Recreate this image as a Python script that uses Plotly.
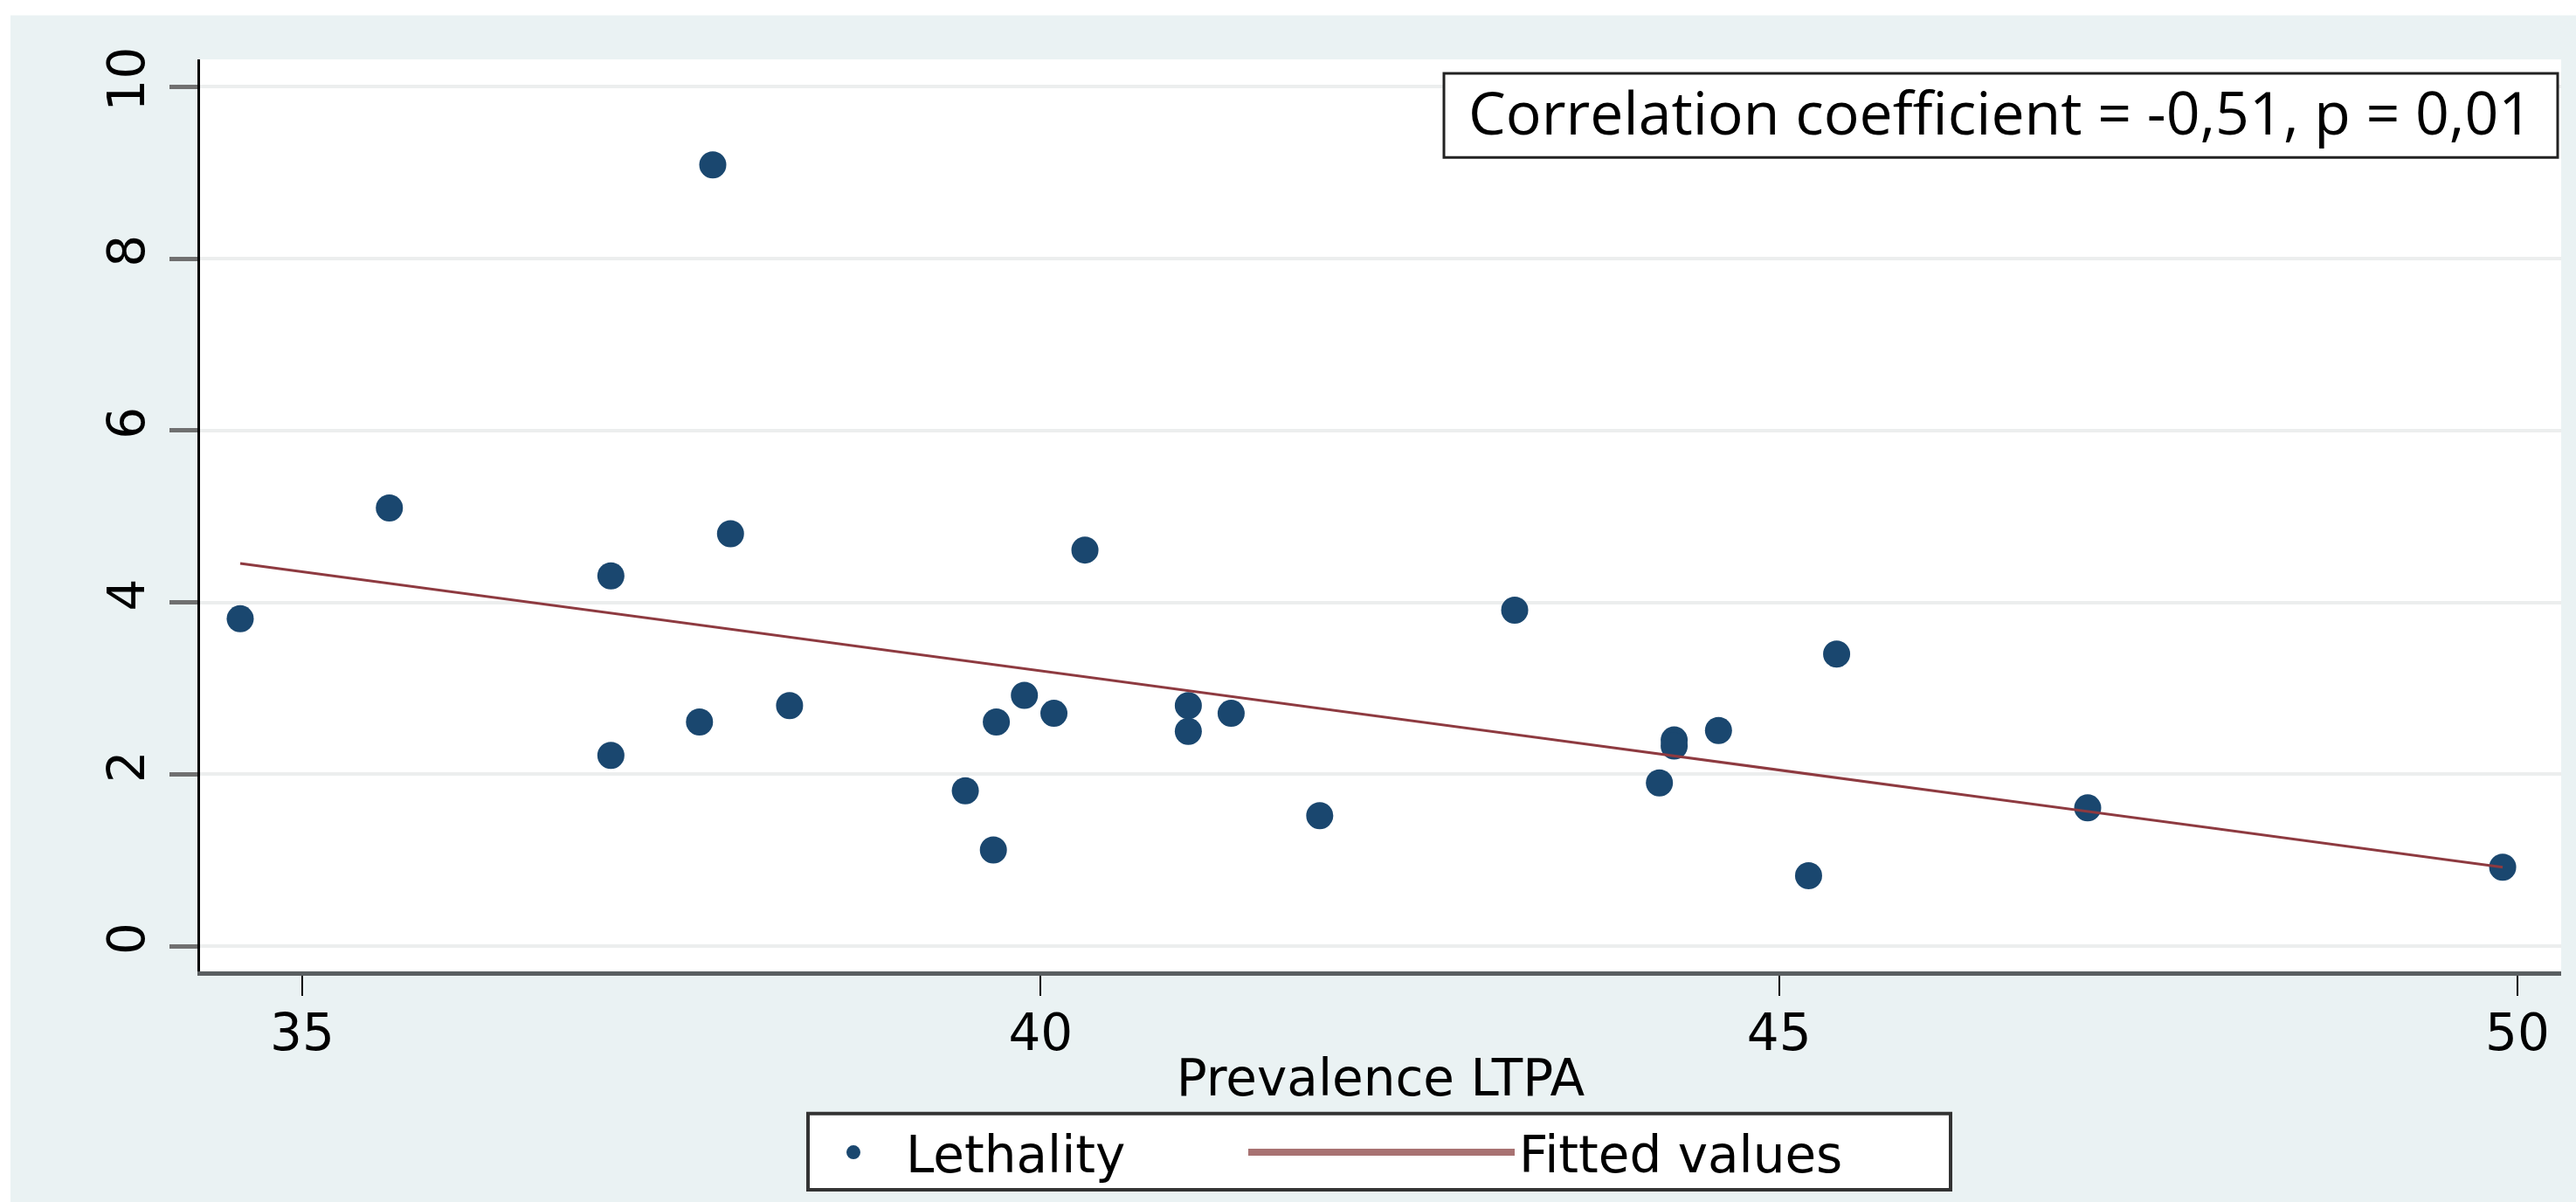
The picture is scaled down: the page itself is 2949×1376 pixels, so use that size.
import plotly.graph_objects as go

# ---------------- data ----------------
ltpa = [34.58, 35.59, 37.09, 37.09, 37.78, 37.69, 37.90, 38.30, 39.49, 39.70,
        39.68, 39.89, 40.09, 40.30, 41.00, 41.00, 41.29, 41.89, 43.21, 44.19,
        44.29, 44.29, 44.59, 45.20, 45.39, 47.09, 49.90]
lethality = [3.81, 5.10, 4.31, 2.22, 9.09, 2.61, 4.80, 2.80, 1.81, 2.61,
             1.12, 2.92, 2.71, 4.61, 2.80, 2.50, 2.71, 1.52, 3.91, 1.90,
             2.40, 2.33, 2.51, 0.82, 3.40, 1.61, 0.92]
fit_x = [34.58, 49.90]
fit_y = [4.455, 0.92]
x_ticks = [35, 40, 45, 50]
y_ticks = [0, 2, 4, 6, 8, 10]
x_title = "Prevalence LTPA"
series_names = ["Lethality", "Fitted values"]
note_text = "Correlation coefficient = -0,51, p = 0,01"

# ---------------- geometry ----------------
W, H = 2949, 1376
ML, MR, MT, MB = 229, 17, 68, 256
PW = W - ML - MR
PH = H - MT - MB


def px_x(px):
    return (px - ML) / PW


def px_y(py):
    return (H - MB - py) / PH


AXIS_FONT = dict(family="DejaVu Sans", size=58, color="black")
BG = "#eaf2f3"
NAVY = "#1a476f"
MAROON = "#8e3a40"

fig = go.Figure()
fig.add_trace(go.Scatter(
    x=ltpa, y=lethality, mode="markers", name=series_names[0],
    marker=dict(color=NAVY, size=31, line=dict(width=0)),
    legend="legend",
))
fig.add_trace(go.Scatter(
    x=fit_x, y=fit_y, mode="lines", name=series_names[1],
    line=dict(color=MAROON, width=3), showlegend=False,
))
# legend key for the fitted line (thicker, as in the original legend)
fig.add_trace(go.Scatter(
    x=[None], y=[None], mode="lines", name=series_names[1],
    line=dict(color="#a87272", width=8), legend="legend2",
))

fig.update_layout(
    width=W, height=H,
    margin=dict(l=ML, r=MR, t=MT, b=MB, pad=0),
    paper_bgcolor=BG, plot_bgcolor="white",
    font=AXIS_FONT,
    xaxis=dict(
        range=[34.308, 50.296], tickvals=x_ticks, showgrid=False, zeroline=False,
        showline=True, linecolor="#5a5f61", linewidth=5,
        ticks="outside", ticklen=23, tickwidth=2, tickcolor="black",
        tickfont=AXIS_FONT, ticklabelstandoff=-8,
        title=dict(text=x_title, font=AXIS_FONT, standoff=0),
    ),
    yaxis=dict(
        range=[-0.292, 10.318], tickvals=y_ticks, tickangle=-90,
        showgrid=True, gridcolor="#eceeee", gridwidth=4, zeroline=False,
        showline=True, linecolor="black", linewidth=3,
        ticks="outside", ticklen=32, tickwidth=5, tickcolor="#707070",
        tickfont=AXIS_FONT, ticklabelstandoff=6,
    ),
    legend=dict(
        x=px_x(917), y=px_y(1329), xanchor="left", yanchor="middle",
        orientation="h", font=AXIS_FONT, bgcolor="rgba(0,0,0,0)",
        borderwidth=0, itemwidth=110,
    ),
    legend2=dict(
        x=px_x(1424), y=px_y(1329), xanchor="left", yanchor="middle",
        orientation="h", font=AXIS_FONT, bgcolor="rgba(0,0,0,0)",
        borderwidth=0, itemwidth=305,
    ),
    shapes=[
        # white strip at top and left edge of the image
        dict(type="rect", xref="paper", yref="paper", layer="below",
             x0=px_x(-20), x1=px_x(W + 20), y0=px_y(17), y1=px_y(-20),
             fillcolor="white", line=dict(width=0)),
        dict(type="rect", xref="paper", yref="paper", layer="below",
             x0=px_x(-20), x1=px_x(12), y0=px_y(H + 20), y1=px_y(-20),
             fillcolor="white", line=dict(width=0)),
        # legend frame
        dict(type="rect", xref="paper", yref="paper", layer="below",
             x0=px_x(925), x1=px_x(2233), y0=px_y(1372), y1=px_y(1284),
             fillcolor="white", line=dict(color="#333333", width=4)),
        # note frame
        dict(type="rect", xref="paper", yref="paper", layer="above",
             x0=px_x(1653), x1=px_x(2928), y0=px_y(181), y1=px_y(84),
             fillcolor="white", line=dict(color="#222222", width=3)),
    ],
    annotations=[
        dict(text=note_text, xref="paper", yref="paper",
             x=px_x(2290), y=px_y(128), xanchor="center", yanchor="middle",
             showarrow=False,
             font=dict(family="Open Sans", size=68, color="black")),
    ],
)

fig.write_html("out.html")
